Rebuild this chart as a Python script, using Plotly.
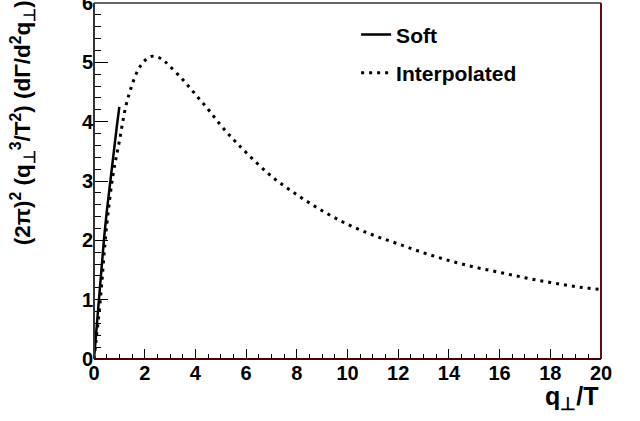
import plotly.graph_objects as go

# Soft curve
soft_x = [0, 0.1, 0.2, 0.3, 0.4, 0.5, 0.6, 0.7, 0.8, 0.9, 1.0]
soft_y = [0, 0.55, 1.08, 1.58, 2.05, 2.47, 2.85, 3.22, 3.58, 3.92, 4.25]

# Interpolated curve
interp_x = [0, 0.1, 0.25, 0.5, 0.75, 1.0, 1.25, 1.5, 1.75, 2.0, 2.25, 2.5, 2.75, 3.0,
            3.5, 4.0, 4.5, 5.0, 5.5, 6.0, 7.0, 8.0, 9.0, 10.0, 11.0, 12.0, 13.0,
            14.0, 15.0, 16.0, 17.0, 18.0, 19.0, 20.0]
interp_y = [0, 0.38, 1.0, 2.25, 3.1, 3.67, 4.25, 4.62, 4.88, 5.03, 5.10, 5.09, 5.03, 4.93,
            4.71, 4.46, 4.21, 3.94, 3.70, 3.48, 3.08, 2.77, 2.50, 2.27, 2.09, 1.94, 1.79,
            1.66, 1.55, 1.46, 1.37, 1.29, 1.22, 1.17]

x_ticks = [0, 2, 4, 6, 8, 10, 12, 14, 16, 18, 20]
y_ticks = [0, 1, 2, 3, 4, 5, 6]

FONT = "Liberation Sans, Arial, Helvetica, sans-serif"

fig = go.Figure()
fig.add_trace(go.Scatter(x=soft_x, y=soft_y, mode="lines", name="<b>Soft</b>",
                         line=dict(color="black", width=2.5), legendgroup="a"))
fig.add_trace(go.Scatter(x=interp_x, y=interp_y, mode="lines", name="<b>Interpolated</b>",
                         line=dict(color="black", width=3, dash="3px,5px", shape="spline"),
                         legendgroup="b"))

fig.update_layout(
    width=640, height=421,
    margin=dict(l=94, r=39, t=3, b=62, autoexpand=False),
    paper_bgcolor="white", plot_bgcolor="white",
    font=dict(family=FONT, color="black"),
    showlegend=True,
    legend=dict(x=0.517, y=0.968, xanchor="left", yanchor="top",
                bgcolor="rgba(0,0,0,0)", tracegroupgap=8,
                font=dict(family=FONT, size=21, color="black")),
    xaxis=dict(range=[0, 20], tickvals=x_ticks,
               ticktext=[f"<b>{v}</b>" for v in x_ticks],
               ticks="inside", ticklen=10,
               tickcolor="black", tickwidth=1, showgrid=False, zeroline=False,
               showline=False, automargin=False, ticklabeloverflow="allow",
               tickfont=dict(family=FONT, size=20, color="black"),
               minor=dict(ticks="inside", dtick=0.5, ticklen=5, tickcolor="black",
                          showgrid=False)),
    yaxis=dict(range=[0, 6], tickvals=y_ticks,
               ticktext=[f"<b>{v}</b>" for v in y_ticks],
               ticks="inside", ticklen=14,
               tickcolor="black", tickwidth=1, showgrid=False, zeroline=False,
               showline=False, automargin=False, ticklabeloverflow="allow",
               tickfont=dict(family=FONT, size=20, color="black"),
               minor=dict(ticks="inside", dtick=0.2, ticklen=7, tickcolor="black",
                          showgrid=False)),
)

# Frame
fig.add_shape(type="line", xref="paper", yref="paper", x0=0, x1=1, y0=1, y1=1,
              line=dict(color="#666666", width=2))
fig.add_shape(type="line", xref="paper", yref="paper", x0=0, x1=0, y0=0, y1=1,
              line=dict(color="#333333", width=2))
fig.add_shape(type="line", xref="paper", yref="paper", x0=1, x1=1, y0=0, y1=1,
              line=dict(color="#6a0a0a", width=2))
fig.add_shape(type="line", xref="paper", yref="paper", x0=0, x1=1, y0=0, y1=0,
              line=dict(color="#4a0000", width=2))

# Axis titles
fig.add_annotation(
    text="<b>(2π)<sup>2</sup> (q<sub>⊥</sub><sup>3</sup>/T<sup>2</sup>) (dΓ/d<sup>2</sup>q<sub>⊥</sub>)</b>",
    xref="paper", yref="paper", x=-0.142, y=1.012, xanchor="center", yanchor="top",
    textangle=-90, showarrow=False,
    font=dict(family=FONT, size=22.5, color="black"))
fig.add_annotation(
    text="<b>q<sub>⊥</sub>/T</b>",
    xref="paper", yref="paper", x=1.0, y=-0.06, xanchor="right", yanchor="top",
    showarrow=False,
    font=dict(family=FONT, size=25, color="black"))

fig.write_html("out.html", config={"displayModeBar": False},
               post_script="document.body.style.margin='0';")
